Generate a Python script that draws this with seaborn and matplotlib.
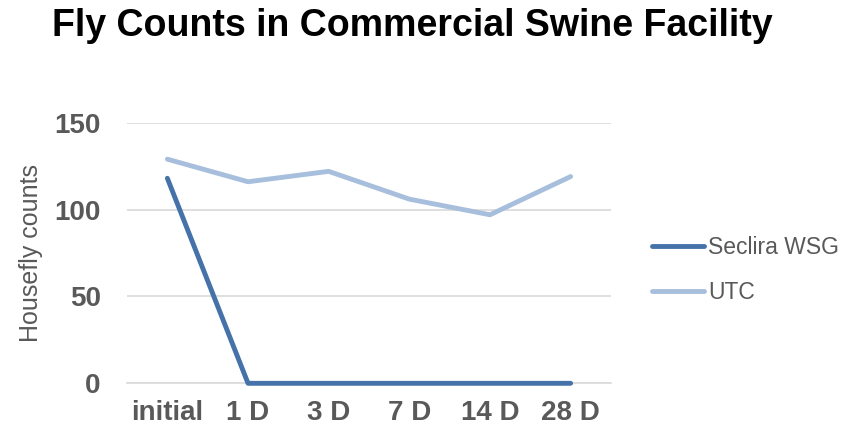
import pandas as pd
import seaborn as sns
import matplotlib.pyplot as plt

days = ["initial", "1 D", "3 D", "7 D", "14 D", "28 D"]
seclira = [118, 0, 0, 0, 0, 0]
utc = [129, 116, 122, 106, 97, 119]
series = ["Seclira WSG", "UTC"]
colors = ["#4672aa", "#a7bfdc"]

df = pd.DataFrame({
    "day": days * 2,
    "count": seclira + utc,
    "series": [series[0]] * len(days) + [series[1]] * len(days),
})

sns.set_style("white")
plt.rcParams["font.family"] = ["Liberation Sans", "DejaVu Sans"]

fig = plt.figure(figsize=(8.66, 4.32), dpi=100)
ax = fig.add_axes([0.1467, 0.1127, 0.5588, 0.6033])

sns.lineplot(data=df, x="day", y="count", hue="series", palette=colors,
             linewidth=3.5, sort=False, ax=ax, legend=True)
for line in ax.lines:
    line.set_solid_capstyle("round")
    line.set_clip_on(False)
    line.set_zorder(4)

ax.set_xlim(-0.5, len(days) - 0.5)
ax.set_ylim(0, 150)
ax.set_yticks([0, 50, 100, 150])
ax.yaxis.grid(True, color="#d9d9d9", linewidth=1.2)
ax.set_axisbelow(True)
for s in ["top", "right", "left"]:
    ax.spines[s].set_visible(False)
ax.spines["bottom"].set_color("#d9d9d9")
ax.spines["bottom"].set_linewidth(1.2)

ax.set_xticks(range(len(days)))
ax.set_xticklabels(days)
ax.set_xticks([i - 0.5 for i in range(len(days) + 1)], minor=True)
ax.tick_params(axis="x", which="major", length=0, pad=12, labelsize=20, labelcolor="#595959")
ax.tick_params(axis="x", which="minor", length=7, width=1.2, color="#d9d9d9", direction="out")
ax.tick_params(axis="y", length=0, pad=19, labelsize=20, labelcolor="#595959")
for lab in ax.get_xticklabels() + ax.get_yticklabels():
    lab.set_fontweight("bold")

ax.set_xlabel("")
ax.set_ylabel("Housefly counts", fontsize=18, color="#595959", labelpad=8)

handles, labels = ax.get_legend_handles_labels()
for h in handles:
    h.set_linewidth(3.5)
    h.set_solid_capstyle("round")
ax.legend(handles, labels, loc="center left", bbox_to_anchor=(0.742, 0.375),
          bbox_transform=fig.transFigure, frameon=False, fontsize=16.5,
          labelcolor="#595959", handlelength=2.3, handletextpad=0.15,
          labelspacing=0.95, borderaxespad=0)

fig.text(0.476, 0.94, "Fly Counts in Commercial Swine Facility", ha="center", va="center",
         fontsize=27, fontweight="bold", color="black")

fig.savefig("out.png", dpi=100)
